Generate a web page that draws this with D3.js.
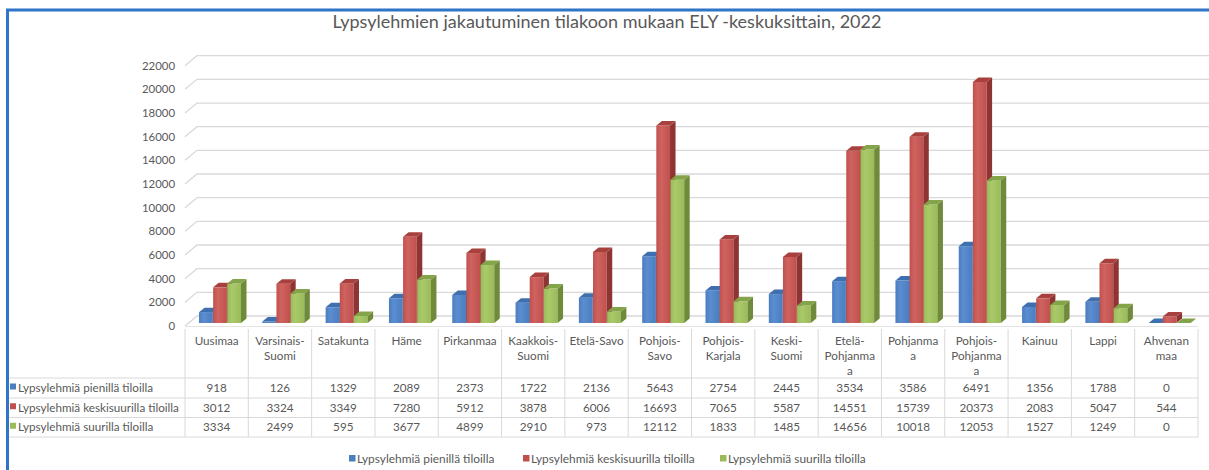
<!DOCTYPE html>
<html><head><meta charset="utf-8">
<script src="https://cdn.jsdelivr.net/npm/d3@7"></script>
<style>body{margin:0;background:#fff;overflow:hidden;} text{font-family:Lato, "Open Sans", sans-serif;}</style>
</head><body>
<svg id="c" width="1209" height="470"></svg>
<script>
const title = "Lypsylehmien jakautuminen tilakoon mukaan ELY -keskuksittain, 2022";
const categories = ["Uusimaa", "Varsinais-\nSuomi", "Satakunta", "Häme", "Pirkanmaa", "Kaakkois-\nSuomi", "Etelä-Savo", "Pohjois-\nSavo", "Pohjois-\nKarjala", "Keski-\nSuomi", "Etelä-\nPohjanma\na", "Pohjanma\na", "Pohjois-\nPohjanma\na", "Kainuu", "Lappi", "Ahvenan\nmaa"];
const seriesNames = ["Lypsylehmiä pienillä tiloilla", "Lypsylehmiä keskisuurilla tiloilla", "Lypsylehmiä suurilla tiloilla"];
const small = [918,126,1329,2089,2373,1722,2136,5643,2754,2445,3534,3586,6491,1356,1788,0];
const medium = [3012,3324,3349,7280,5912,3878,6006,16693,7065,5587,14551,15739,20373,2083,5047,544];
const large = [3334,2499,595,3677,4899,2910,973,12112,1833,1485,14656,10018,12053,1527,1249,0];
const yTicks = [0,2000,4000,6000,8000,10000,12000,14000,16000,18000,20000,22000];
const seriesValues = [small, medium, large];
const colors = [
  {front:"#4a7ebf", light:"#5b8dd0", side:"#38629a", top:"#3f6fae"},
  {front:"#c0504d", light:"#cf6360", side:"#8e3533", top:"#a8403d"},
  {front:"#9bbb59", light:"#aac96a", side:"#6f8a3a", top:"#84a449"}
];
const fs = 11.7;

const svg = d3.select("#c");
const defs = svg.append("defs");
colors.forEach((c,i)=>{
  const g = defs.append("linearGradient").attr("id","g"+i).attr("x1","0").attr("x2","1").attr("y1","0").attr("y2","0");
  g.append("stop").attr("offset","0").attr("stop-color",c.front);
  g.append("stop").attr("offset","0.35").attr("stop-color",c.light);
  g.append("stop").attr("offset","1").attr("stop-color",c.front);
});

// frame (top and left edges only are in view)
svg.append("path").attr("d","M7.5,470L7.5,10L1209,10")
  .attr("fill","none").attr("stroke","#2e75c8").attr("stroke-width",3);

svg.append("text").attr("x",607).attr("y",28).attr("text-anchor","middle")
  .attr("font-size",18).attr("fill","#595959").text(title);

const x = d3.scaleBand().domain(d3.range(categories.length)).range([185,1198]);
const y = d3.scaleLinear().domain([0,22000]).range([326,65.7]);
const xs = d3.scaleBand().domain([0,1,2]).range([14,56]).paddingInner(0.03);
const wallDx = 12, wallDy = 10;

// gridlines
const grid = svg.append("g");
yTicks.forEach(t=>{
  const yy = y(t);
  grid.append("path").attr("d",`M185,${yy}L${185+wallDx},${yy-wallDy}L1209,${yy-wallDy}`)
    .attr("fill","none").attr("stroke","#d9d9d9").attr("stroke-width",1.3);
  grid.append("text").attr("x",175).attr("y",yy+4).attr("text-anchor","end")
    .attr("font-size",11.4).attr("fill","#595959").text(t);
});
svg.append("line").attr("x1",185).attr("x2",1198).attr("y1",326.5).attr("y2",326.5).attr("stroke","#e3e3e3");

// bars
const dx = 5.5, dy = 4.5, shift = 3;
const bars = svg.append("g");
categories.forEach((c,ci)=>{
  seriesValues.forEach((vals,si)=>{
    const v = vals[ci];
    const x0 = x(ci) + xs(si), x1 = x0 + xs.bandwidth();
    const yb = y(0) - shift, yt = y(v) - shift;
    const col = colors[si];
    if (yb - yt > 0.2) {
      bars.append("rect").attr("x",x0).attr("y",yt).attr("width",x1-x0).attr("height",yb-yt).attr("fill",`url(#g${si})`);
      bars.append("path").attr("d",`M${x1},${yt}L${x1+dx},${yt-dy}L${x1+dx},${yb-dy}L${x1},${yb}Z`).attr("fill",col.side);
    }
    bars.append("path").attr("d",`M${x0},${yt}L${x0+dx},${yt-dy}L${x1+dx},${yt-dy}L${x1},${yt}Z`).attr("fill",col.top);
  });
});

// data table
const tbl = svg.append("g");
const rowLines = [378, 398, 417.5, 437];
const headTop = 329;
x.domain().forEach(i=>{
  tbl.append("line").attr("x1",x(i)).attr("x2",x(i)).attr("y1",headTop).attr("y2",437).attr("stroke","#d9d9d9");
});
tbl.append("line").attr("x1",1198).attr("x2",1198).attr("y1",headTop).attr("y2",437).attr("stroke","#d9d9d9");
rowLines.forEach(r=>{
  tbl.append("line").attr("x1",9).attr("x2",1198).attr("y1",r).attr("y2",r).attr("stroke","#d9d9d9");
});
categories.forEach((c,ci)=>{
  const lines = c.split("\n");
  const t = tbl.append("text").attr("text-anchor","middle").attr("font-size",fs).attr("fill","#595959");
  lines.forEach((l,li)=>{
    t.append("tspan").attr("x",x(ci)+x.bandwidth()/2).attr("y",344.5+li*15).text(l);
  });
});
seriesValues.forEach((vals,si)=>{
  const top = rowLines[si], bot = rowLines[si+1];
  const cy = (top+bot)/2 + 4;
  tbl.append("rect").attr("x",10).attr("y",cy-8.5).attr("width",6).attr("height",6).attr("fill",colors[si].front);
  tbl.append("text").attr("x",18).attr("y",cy).attr("font-size",fs).attr("fill","#595959").text(seriesNames[si]);
  vals.forEach((v,ci)=>{
    tbl.append("text").attr("x",x(ci)+x.bandwidth()/2).attr("y",cy).attr("text-anchor","middle")
      .attr("font-size",fs).attr("fill","#595959").text(v);
  });
});

// legend
const legX = [349, 523, 720];
seriesNames.forEach((n,si)=>{
  svg.append("rect").attr("x",legX[si]).attr("y",455).attr("width",6.5).attr("height",6.5).attr("fill",colors[si].front);
  svg.append("text").attr("x",legX[si]+8).attr("y",462.5).attr("font-size",11.9).attr("fill","#595959").text(n);
});
</script>
</body></html>
